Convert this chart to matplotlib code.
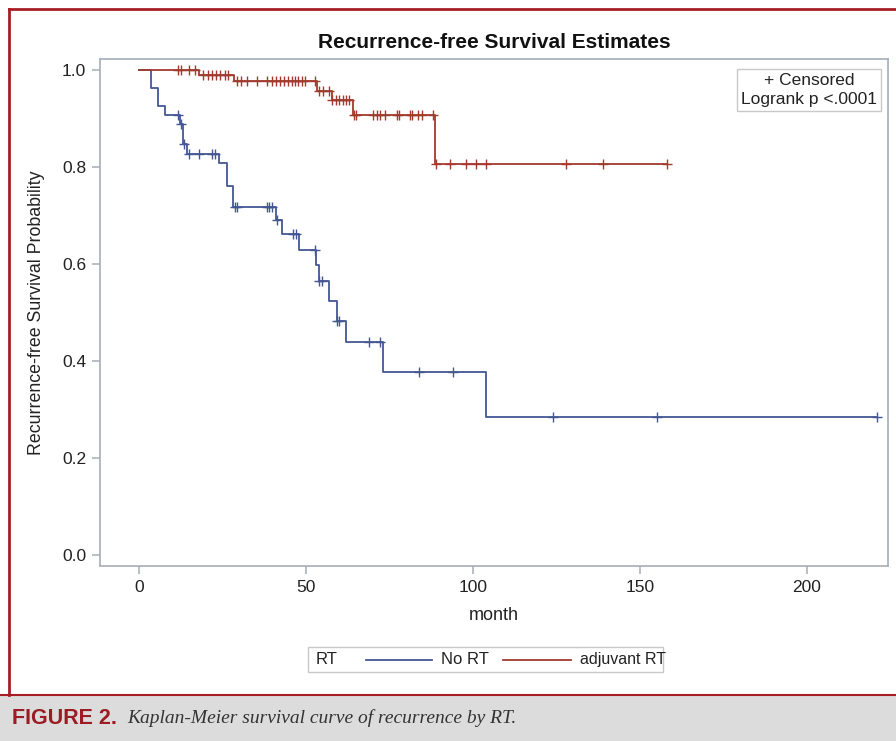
import numpy as np
import matplotlib.pyplot as plt
from matplotlib.lines import Line2D
from matplotlib.patches import Rectangle

plt.rcParams['font.family'] = ['Liberation Sans', 'DejaVu Sans']
plt.rcParams['font.size'] = 11

# Dados
# No RT: tempos das quedas e sobrevida apos cada queda
no_rt_time = [0, 3.4, 5.7, 7.6, 12.3, 13.1, 14.4, 23.8, 26.4, 28.0, 40.8,
              42.6, 47.7, 52.8, 53.8, 56.9, 59.1, 61.9, 72.9, 103.8]
no_rt_surv = [1.0, 0.963, 0.926, 0.907, 0.889, 0.848, 0.828, 0.809, 0.761,
              0.718, 0.690, 0.661, 0.629, 0.597, 0.566, 0.524, 0.483, 0.440,
              0.377, 0.284]
no_rt_cens = [11.6, 12.5, 13.3, 14.9, 17.8, 21.8, 22.6, 28.6, 29.3, 38.1,
              38.9, 39.7, 41.2, 46.1, 46.8, 52.5, 53.9, 54.7, 59.3, 59.9,
              68.8, 72.1, 83.9, 93.9, 124.0, 155.1, 221.1]

# adjuvant RT
adj_time = [0, 17.8, 28.2, 53.3, 57.6, 63.9, 88.6]
adj_surv = [1.0, 0.990, 0.978, 0.957, 0.938, 0.908, 0.807]
adj_cens = [11.6, 12.6, 14.8, 16.8, 19.1, 20.6, 21.9, 23.1, 24.3, 25.6, 26.6,
            29.1, 30.3, 32.1, 35.3, 38.1, 39.6, 40.9, 42.1, 43.3, 44.6, 45.6,
            46.6, 47.6, 48.6, 49.6, 52.6, 53.9, 55.1, 56.9, 57.8, 58.9, 59.9,
            60.9, 61.9, 62.9, 64.3, 64.9, 70.1, 71.1, 72.1, 73.6, 77.3, 77.9,
            81.1, 81.7, 83.5, 84.7, 88.0, 88.8, 93.0, 98.0, 101.0, 104.0,
            127.8, 138.8, 158.2]

azul = '#445694'
verm = '#a23a2e'
cinza = '#a7aeb6'
borda = '#a51e25'
texto = '#222222'


def surv_em(t, tempos, surv):
    idx = np.searchsorted(tempos, t, side='right') - 1
    return np.array(surv)[idx]


fig = plt.figure(figsize=(8.96, 7.41), dpi=100)
ax = fig.add_axes([100/896, 1-566/741, 788/896, 507/741])

for tempos, surv, cens, cor in [(no_rt_time, no_rt_surv, no_rt_cens, azul),
                                (adj_time, adj_surv, adj_cens, verm)]:
    fim = max(cens)
    ax.step(tempos + [fim], surv + [surv[-1]], where='post', color=cor, lw=1.3)
    ax.plot(cens, surv_em(cens, tempos, surv), '+', color=cor, ms=6.5, mew=1.0)

ax.set_xlim(-11.8, 224.3)
ax.set_ylim(-0.023, 1.023)
ax.set_xticks([0, 50, 100, 150, 200])
ax.set_yticks([0.0, 0.2, 0.4, 0.6, 0.8, 1.0])
ax.set_yticklabels(['0.0', '0.2', '0.4', '0.6', '0.8', '1.0'])
for s in ax.spines.values():
    s.set_color(cinza)
    s.set_linewidth(1.2)
ax.tick_params(colors=cinza, labelcolor=texto, length=6, width=1.1,
               labelsize=12.5, pad=4)
ax.set_xlabel('month', fontsize=13, color=texto, labelpad=9)
ax.set_ylabel('Recurrence-free Survival Probability', fontsize=12.8,
              color=texto, labelpad=12)
ax.set_title('Recurrence-free Survival Estimates', fontsize=15, fontweight='bold',
             color='#111111', pad=8)

ax.text(0.8998, 0.972, '+ Censored\nLogrank p <.0001', transform=ax.transAxes,
        ha='center', va='top', fontsize=12.5, color=texto, linespacing=1.3,
        bbox=dict(boxstyle='square,pad=0.25', fc='white', ec='#c8c8c8', lw=1))

# legenda
fig.add_artist(Rectangle((308/896, 1-672/741), 355/896, 25/741,
                         transform=fig.transFigure, fc='white', ec='#c8c8c8', lw=1))
yl = 1-659.5/741
fig.text(316/896, yl, 'RT', ha='left', va='center', fontsize=12, color=texto)
fig.add_artist(Line2D([366/896, 432/896], [yl, yl], transform=fig.transFigure,
                      color=azul, lw=1.3))
fig.text(441/896, yl, 'No RT', ha='left', va='center', fontsize=12, color=texto)
fig.add_artist(Line2D([503/896, 571/896], [yl, yl], transform=fig.transFigure,
                      color=verm, lw=1.3))
fig.text(580/896, yl, 'adjuvant RT', ha='left', va='center', fontsize=11.5,
         color=texto)

# moldura e legenda da figura
fig.add_artist(Rectangle((0, 0), 1, 1-696/741, transform=fig.transFigure,
                         fc='#dcdcdc', ec='none'))
fig.add_artist(Line2D([9/896, 1], [1-9/741, 1-9/741], transform=fig.transFigure,
                      color=borda, lw=2))
fig.add_artist(Line2D([9/896, 9/896], [1-9/741, 1-695/741], transform=fig.transFigure,
                      color=borda, lw=2))
fig.add_artist(Line2D([0, 1], [1-695/741, 1-695/741], transform=fig.transFigure,
                      color=borda, lw=1.5))
fig.text(12/896, 1-718/741, 'FIGURE 2.', ha='left', va='center', fontsize=15.5,
         fontweight='bold', color='#9b1c24',
         family=['Liberation Sans Narrow', 'Liberation Sans'])
fig.text(127/896, 1-718/741, 'Kaplan-Meier survival curve of recurrence by RT.',
         ha='left', va='center', fontsize=14, style='italic', color='#333333',
         family=['Liberation Serif', 'DejaVu Serif'])

fig.savefig('out.png', dpi=100)
